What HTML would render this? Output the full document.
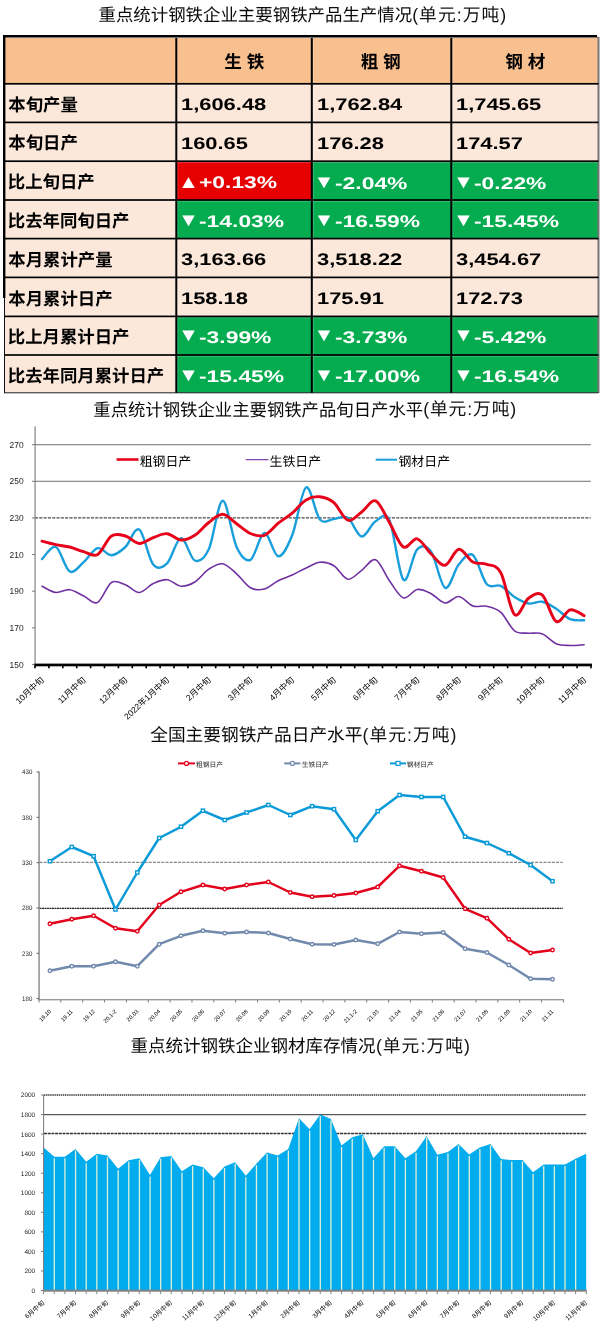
<!DOCTYPE html>
<html lang="zh"><head><meta charset="utf-8"><title>重点统计钢铁企业主要钢铁产品生产情况</title>
<style>
html,body{margin:0;padding:0;background:#fff}
body{width:600px;height:1342px;position:relative;overflow:hidden;font-family:"Liberation Sans","Noto Sans CJK SC",sans-serif;color:#000;text-rendering:geometricPrecision}
#page{position:absolute;left:0;top:0;width:600px;height:1342px;overflow:hidden;will-change:transform}
#gfx{position:absolute;left:0;top:0}
.num{position:absolute;white-space:nowrap;font-family:"Liberation Sans",sans-serif;font-weight:bold;font-size:16.8px;line-height:20px;height:20px;color:#000}
.num.w{color:#fff}
.num .sx{display:inline-block;transform:scaleX(1.305);transform-origin:0 50%}
.num .sx.p{transform:scaleX(1.362);margin-left:-0.6px}
.num .tri{display:inline-block;font-size:21.2px;line-height:20px;height:20px;width:22px;margin-left:-3.6px;transform:scaleY(.86);transform-origin:0 17.3px;vertical-align:baseline}
.num .tri.dn{vertical-align:1.2px}
.num .tri.up{vertical-align:.6px}
svg text{font-family:"Liberation Sans","Noto Sans CJK SC",sans-serif;text-rendering:geometricPrecision}
</style></head>
<body><div id="page">
<svg id="gfx" width="600" height="1342" viewBox="0 0 600 1342">
<text x="98.49" y="21.11" font-size="17.43" fill="#0a0a0a">重点统计钢铁企业主要钢铁产品生产情况</text>
<text x="412.2" y="20.72" font-size="17.8" fill="#111" textLength="94" lengthAdjust="spacing">(单元:万吨)</text>
<text x="93.30" y="415.71" font-size="17.38" fill="#0a0a0a">重点统计钢铁企业主要钢铁产品旬日产水平</text>
<text x="423.2" y="415.32" font-size="17.8" fill="#111" textLength="93" lengthAdjust="spacing">(单元:万吨)</text>
<text x="150.24" y="741.41" font-size="17.69" fill="#0a0a0a">全国主要钢铁产品日产水平</text>
<text x="362.5" y="741.02" font-size="17.8" fill="#111" textLength="94" lengthAdjust="spacing">(单元:万吨)</text>
<text x="130.49" y="1052.31" font-size="17.5" fill="#0a0a0a">重点统计钢铁企业钢材库存情况</text>
<text x="375.9" y="1051.92" font-size="17.8" fill="#111" textLength="94" lengthAdjust="spacing">(单元:万吨)</text>
<g id="tbl"><rect x="4.0" y="36.0" width="594.0" height="47.8" fill="#F9C08F"/><rect x="4.0" y="83.8" width="594.0" height="309.0" fill="#FCE8DA"/><rect x="176.3" y="161.2" width="135.5" height="38.80000000000001" fill="#E60000"/><rect x="311.8" y="161.2" width="139.5" height="38.80000000000001" fill="#04AB4F"/><rect x="451.3" y="161.2" width="147.7" height="38.80000000000001" fill="#04AB4F"/><rect x="176.3" y="200.0" width="135.5" height="38.599999999999994" fill="#04AB4F"/><rect x="311.8" y="200.0" width="139.5" height="38.599999999999994" fill="#04AB4F"/><rect x="451.3" y="200.0" width="147.7" height="38.599999999999994" fill="#04AB4F"/><rect x="176.3" y="316.4" width="135.5" height="38.60000000000002" fill="#04AB4F"/><rect x="311.8" y="316.4" width="139.5" height="38.60000000000002" fill="#04AB4F"/><rect x="451.3" y="316.4" width="147.7" height="38.60000000000002" fill="#04AB4F"/><rect x="176.3" y="355.0" width="135.5" height="37.80000000000001" fill="#04AB4F"/><rect x="311.8" y="355.0" width="139.5" height="37.80000000000001" fill="#04AB4F"/><rect x="451.3" y="355.0" width="147.7" height="37.80000000000001" fill="#04AB4F"/><rect x="177.3" y="36.0" width="1" height="356.8" fill="#fff" opacity=".22"/><rect x="312.8" y="36.0" width="1" height="356.8" fill="#fff" opacity=".22"/><rect x="452.3" y="36.0" width="1" height="356.8" fill="#fff" opacity=".22"/><rect x="4.0" y="84.64999999999999" width="594.0" height="1" fill="#fff" opacity=".22"/><rect x="4.0" y="123.25" width="594.0" height="1" fill="#fff" opacity=".22"/><rect x="4.0" y="162.04999999999998" width="594.0" height="1" fill="#fff" opacity=".22"/><rect x="4.0" y="200.85" width="594.0" height="1" fill="#fff" opacity=".22"/><rect x="4.0" y="239.45" width="594.0" height="1" fill="#fff" opacity=".22"/><rect x="4.0" y="278.25" width="594.0" height="1" fill="#fff" opacity=".22"/><rect x="4.0" y="317.25" width="594.0" height="1" fill="#fff" opacity=".22"/><rect x="4.0" y="355.85" width="594.0" height="1" fill="#fff" opacity=".22"/><rect x="597.5" y="37" width="2" height="356" fill="#777"/><rect x="4.0" y="82.95" width="594.5" height="1.7" fill="#000"/><rect x="4.0" y="121.55000000000001" width="594.5" height="1.7" fill="#000"/><rect x="4.0" y="160.35" width="594.5" height="1.7" fill="#000"/><rect x="4.0" y="199.15" width="594.5" height="1.7" fill="#000"/><rect x="4.0" y="237.75" width="594.5" height="1.7" fill="#000"/><rect x="4.0" y="276.54999999999995" width="594.5" height="1.7" fill="#000"/><rect x="4.0" y="315.54999999999995" width="594.5" height="1.7" fill="#000"/><rect x="4.0" y="354.15" width="594.5" height="1.7" fill="#000"/><rect x="4" y="392.3" width="594.5" height="1" fill="#222"/><rect x="175.3" y="36.0" width="2" height="356.8" fill="#000"/><rect x="310.8" y="36.0" width="2" height="356.8" fill="#000"/><rect x="450.3" y="36.0" width="2" height="356.8" fill="#000"/><rect x="3" y="35" width="594" height="2" fill="#000"/><rect x="5" y="37" width="593" height="1" fill="#777"/><rect x="3" y="35" width="2.4" height="263" fill="#000"/><rect x="4" y="298" width="1" height="95" fill="#111"/></g>
<text x="8.28" y="110.71" font-size="17.4" font-weight="bold" fill="#000">本旬产量</text>
<text x="8.28" y="149.41" font-size="17.4" font-weight="bold" fill="#000">本旬日产</text>
<text x="7.74" y="188.21" font-size="17.4" font-weight="bold" fill="#000">比上旬日产</text>
<text x="7.74" y="226.91" font-size="17.4" font-weight="bold" fill="#000">比去年同旬日产</text>
<text x="8.28" y="265.61" font-size="17.4" font-weight="bold" fill="#000">本月累计产量</text>
<text x="8.28" y="304.51" font-size="17.4" font-weight="bold" fill="#000">本月累计日产</text>
<text x="7.74" y="343.31" font-size="17.4" font-weight="bold" fill="#000">比上月累计日产</text>
<text x="7.74" y="381.51" font-size="17.4" font-weight="bold" fill="#000">比去年同月累计日产</text>
<text x="224.17" y="67.89" font-size="17.6" font-weight="bold" fill="#000" xml:space="preserve">生 铁</text>
<text x="360.65" y="67.89" font-size="17.6" font-weight="bold" fill="#000" xml:space="preserve">粗 钢</text>
<text x="505.20" y="67.89" font-size="17.6" font-weight="bold" fill="#000" xml:space="preserve">钢 材</text>
<g id="chart1"><rect x="35" y="444.15" width="555.8" height="1.1" fill="#7c7c7c"/><rect x="35" y="480.75" width="555.8" height="1.1" fill="#7c7c7c"/><line x1="35" y1="517.9" x2="590.8" y2="517.9" stroke="#4a4a4a" stroke-width="1.2" stroke-dasharray="3.1 1.2"/><rect x="34.5" y="426.3" width="1.1" height="238.6" fill="#7a7a7a"/><rect x="32" y="444.20" width="3" height="1" fill="#7a7a7a"/><text x="23.6" y="447.80" font-size="8.6" text-anchor="end" fill="#222" textLength="14" lengthAdjust="spacingAndGlyphs">270</text><rect x="32" y="480.82" width="3" height="1" fill="#7a7a7a"/><text x="23.6" y="484.42" font-size="8.6" text-anchor="end" fill="#222" textLength="14" lengthAdjust="spacingAndGlyphs">250</text><rect x="32" y="517.44" width="3" height="1" fill="#7a7a7a"/><text x="23.6" y="521.04" font-size="8.6" text-anchor="end" fill="#222" textLength="14" lengthAdjust="spacingAndGlyphs">230</text><rect x="32" y="554.06" width="3" height="1" fill="#7a7a7a"/><text x="23.6" y="557.66" font-size="8.6" text-anchor="end" fill="#222" textLength="14" lengthAdjust="spacingAndGlyphs">210</text><rect x="32" y="590.68" width="3" height="1" fill="#7a7a7a"/><text x="23.6" y="594.28" font-size="8.6" text-anchor="end" fill="#222" textLength="14" lengthAdjust="spacingAndGlyphs">190</text><rect x="32" y="627.30" width="3" height="1" fill="#7a7a7a"/><text x="23.6" y="630.90" font-size="8.6" text-anchor="end" fill="#222" textLength="14" lengthAdjust="spacingAndGlyphs">170</text><rect x="32" y="663.92" width="3" height="1" fill="#7a7a7a"/><text x="23.6" y="667.52" font-size="8.6" text-anchor="end" fill="#222" textLength="14" lengthAdjust="spacingAndGlyphs">150</text><path d="M42.0 586.2C44.3 587.2 51.2 591.9 55.9 592.5C60.5 593.1 65.1 589.1 69.8 589.7C74.4 590.3 79.0 593.9 83.7 596.0C88.3 598.1 92.9 604.8 97.6 602.5C102.2 600.2 106.8 585.5 111.5 582.5C116.1 579.5 120.7 583.1 125.4 584.8C130.0 586.5 134.6 592.7 139.2 592.5C143.9 592.3 148.5 585.7 153.2 583.6C157.8 581.5 162.4 579.3 167.1 579.7C171.7 580.1 176.3 585.8 181.0 586.2C185.6 586.6 190.2 584.8 194.8 582.0C199.5 579.2 204.1 572.2 208.8 569.2C213.4 566.2 218.0 563.0 222.7 563.8C227.3 564.6 231.9 569.8 236.6 573.8C241.2 577.8 245.8 585.3 250.5 587.8C255.1 590.3 259.7 590.2 264.4 589.0C269.0 587.8 273.6 583.1 278.2 580.8C282.9 578.5 287.5 577.1 292.2 575.0C296.8 572.9 301.4 570.1 306.1 568.0C310.7 565.9 315.3 562.6 319.9 562.2C324.6 561.8 329.2 562.9 333.9 565.7C338.5 568.5 343.1 578.4 347.8 579.2C352.4 580.0 357.0 573.5 361.7 570.3C366.3 567.1 370.9 558.0 375.6 559.8C380.2 561.5 384.8 574.4 389.4 580.8C394.1 587.1 398.7 596.4 403.4 597.9C408.0 599.4 412.6 590.2 417.2 589.5C421.9 588.8 426.5 591.5 431.2 593.7C435.8 596.0 440.4 602.5 445.1 603.0C449.7 603.5 454.3 596.0 458.9 596.5C463.6 597.0 468.2 604.3 472.9 605.9C477.5 607.5 482.1 605.2 486.8 606.3C491.4 607.3 496.0 608.1 500.7 612.2C505.3 616.3 509.9 627.3 514.5 630.8C519.2 634.3 523.8 632.7 528.5 633.2C533.1 633.7 537.7 632.1 542.4 633.9C547.0 635.6 551.6 641.8 556.2 643.7C560.9 645.6 565.5 645.3 570.1 645.5C574.8 645.7 581.7 644.9 584.1 644.8" fill="none" stroke="#7030A0" stroke-width="1.6" stroke-linejoin="round" stroke-linecap="round"/><path d="M42.0 559.1C44.3 557.1 51.2 544.9 55.9 547.0C60.5 549.1 65.1 569.0 69.8 571.5C74.4 574.0 79.0 566.1 83.7 562.2C88.3 558.3 92.9 549.4 97.6 548.2C102.2 547.0 106.8 555.4 111.5 555.2C116.1 555.0 120.7 551.3 125.4 547.0C130.0 542.7 134.6 526.6 139.2 529.5C143.9 532.4 148.5 558.9 153.2 564.5C157.8 570.1 162.4 567.7 167.1 563.3C171.7 558.9 176.3 538.6 181.0 538.1C185.6 537.6 190.2 558.6 194.8 560.5C199.5 562.4 204.1 559.2 208.8 549.3C213.4 539.3 218.0 501.2 222.7 500.8C227.3 500.4 231.9 537.2 236.6 547.0C241.2 556.8 245.8 562.1 250.5 559.8C255.1 557.5 259.7 533.6 264.4 533.0C269.0 532.4 273.6 555.9 278.2 556.3C282.9 556.7 287.5 546.8 292.2 535.3C296.8 523.8 301.4 490.1 306.1 487.5C310.7 484.9 315.3 514.2 319.9 519.5C324.6 524.8 329.2 519.3 333.9 519.0C338.5 518.7 343.1 514.9 347.8 517.8C352.4 520.7 357.0 535.9 361.7 536.5C366.3 537.1 370.9 524.0 375.6 521.3C380.2 518.6 384.8 510.5 389.4 520.2C394.1 529.9 398.7 574.9 403.4 579.7C408.0 584.6 412.6 554.0 417.2 549.3C421.9 544.6 426.5 545.3 431.2 551.7C435.8 558.1 440.4 585.7 445.1 587.8C449.7 589.9 454.3 569.8 458.9 564.3C463.6 558.8 468.2 551.7 472.9 555.0C477.5 558.3 482.1 579.1 486.8 584.2C491.4 589.3 496.0 583.7 500.7 585.8C505.3 587.9 509.9 594.0 514.5 597.0C519.2 600.0 523.8 602.7 528.5 603.5C533.1 604.3 537.7 600.8 542.4 601.7C547.0 602.6 551.6 605.8 556.2 608.7C560.9 611.6 565.5 617.3 570.1 619.2C574.8 621.1 581.7 620.1 584.1 620.3" fill="none" stroke="#189FDB" stroke-width="2.4" stroke-linejoin="round" stroke-linecap="round"/><path d="M42.0 541.2C44.3 541.8 51.2 543.7 55.9 544.7C60.5 545.7 65.1 545.8 69.8 547.0C74.4 548.2 79.0 550.5 83.7 551.7C88.3 553.0 92.9 557.1 97.6 554.5C102.2 551.9 106.8 539.1 111.5 536.0C116.1 532.9 120.7 534.8 125.4 536.0C130.0 537.2 134.6 543.2 139.2 543.5C143.9 543.8 148.5 539.3 153.2 537.7C157.8 536.1 162.4 533.3 167.1 533.7C171.7 534.1 176.3 539.7 181.0 540.0C185.6 540.3 190.2 538.2 194.8 535.3C199.5 532.4 204.1 526.0 208.8 522.5C213.4 519.0 218.0 514.1 222.7 514.3C227.3 514.5 231.9 520.5 236.6 523.7C241.2 526.9 245.8 531.6 250.5 533.5C255.1 535.4 259.7 537.0 264.4 535.3C269.0 533.6 273.6 526.9 278.2 523.2C282.9 519.5 287.5 517.1 292.2 513.2C296.8 509.3 301.4 502.6 306.1 499.9C310.7 497.2 315.3 496.3 319.9 496.8C324.6 497.3 329.2 498.8 333.9 502.7C338.5 506.6 343.1 518.7 347.8 520.2C352.4 521.8 357.0 515.2 361.7 512.0C366.3 508.8 370.9 499.1 375.6 500.8C380.2 502.6 384.8 514.8 389.4 522.5C394.1 530.2 398.7 544.3 403.4 547.0C408.0 549.7 412.6 537.6 417.2 538.8C421.9 540.0 426.5 549.6 431.2 554.0C435.8 558.4 440.4 566.0 445.1 565.2C449.7 564.4 454.3 549.7 458.9 549.2C463.6 548.7 468.2 559.5 472.9 562.0C477.5 564.5 482.1 562.5 486.8 564.3C491.4 566.0 496.0 564.1 500.7 572.5C505.3 580.9 509.9 610.2 514.5 614.5C519.2 618.8 523.8 601.4 528.5 598.2C533.1 595.0 537.7 591.2 542.4 595.1C547.0 599.0 551.6 619.0 556.2 621.5C560.9 624.0 565.5 610.8 570.1 609.8C574.8 608.8 581.7 614.7 584.1 615.7" fill="none" stroke="#E60019" stroke-width="2.9" stroke-linejoin="round" stroke-linecap="round"/><rect x="34.5" y="663.6" width="557.5" height="2.7" fill="#000"/><rect x="34.20" y="665" width="1.6" height="3.3" fill="#000"/><rect x="48.10" y="665" width="1.6" height="3.3" fill="#000"/><rect x="62.00" y="665" width="1.6" height="3.3" fill="#000"/><rect x="75.90" y="665" width="1.6" height="3.3" fill="#000"/><rect x="89.80" y="665" width="1.6" height="3.3" fill="#000"/><rect x="103.70" y="665" width="1.6" height="3.3" fill="#000"/><rect x="117.60" y="665" width="1.6" height="3.3" fill="#000"/><rect x="131.50" y="665" width="1.6" height="3.3" fill="#000"/><rect x="145.40" y="665" width="1.6" height="3.3" fill="#000"/><rect x="159.30" y="665" width="1.6" height="3.3" fill="#000"/><rect x="173.20" y="665" width="1.6" height="3.3" fill="#000"/><rect x="187.10" y="665" width="1.6" height="3.3" fill="#000"/><rect x="201.00" y="665" width="1.6" height="3.3" fill="#000"/><rect x="214.90" y="665" width="1.6" height="3.3" fill="#000"/><rect x="228.80" y="665" width="1.6" height="3.3" fill="#000"/><rect x="242.70" y="665" width="1.6" height="3.3" fill="#000"/><rect x="256.60" y="665" width="1.6" height="3.3" fill="#000"/><rect x="270.50" y="665" width="1.6" height="3.3" fill="#000"/><rect x="284.40" y="665" width="1.6" height="3.3" fill="#000"/><rect x="298.30" y="665" width="1.6" height="3.3" fill="#000"/><rect x="312.20" y="665" width="1.6" height="3.3" fill="#000"/><rect x="326.10" y="665" width="1.6" height="3.3" fill="#000"/><rect x="340.00" y="665" width="1.6" height="3.3" fill="#000"/><rect x="353.90" y="665" width="1.6" height="3.3" fill="#000"/><rect x="367.80" y="665" width="1.6" height="3.3" fill="#000"/><rect x="381.70" y="665" width="1.6" height="3.3" fill="#000"/><rect x="395.60" y="665" width="1.6" height="3.3" fill="#000"/><rect x="409.50" y="665" width="1.6" height="3.3" fill="#000"/><rect x="423.40" y="665" width="1.6" height="3.3" fill="#000"/><rect x="437.30" y="665" width="1.6" height="3.3" fill="#000"/><rect x="451.20" y="665" width="1.6" height="3.3" fill="#000"/><rect x="465.10" y="665" width="1.6" height="3.3" fill="#000"/><rect x="479.00" y="665" width="1.6" height="3.3" fill="#000"/><rect x="492.90" y="665" width="1.6" height="3.3" fill="#000"/><rect x="506.80" y="665" width="1.6" height="3.3" fill="#000"/><rect x="520.70" y="665" width="1.6" height="3.3" fill="#000"/><rect x="534.60" y="665" width="1.6" height="3.3" fill="#000"/><rect x="548.50" y="665" width="1.6" height="3.3" fill="#000"/><rect x="562.40" y="665" width="1.6" height="3.3" fill="#000"/><rect x="576.30" y="665" width="1.6" height="3.3" fill="#000"/><rect x="590.20" y="665" width="1.6" height="3.3" fill="#000"/><line x1="116.6" y1="459.5" x2="138.5" y2="459.5" stroke="#E60019" stroke-width="2.6"/><line x1="245.8" y1="459.7" x2="268.4" y2="459.7" stroke="#7030A0" stroke-width="1.1"/><line x1="375.7" y1="459.7" x2="397" y2="459.7" stroke="#189FDB" stroke-width="2"/></g>
<text x="139.67" y="465.90" font-size="12.9" fill="#000">粗钢日产</text>
<text x="269.50" y="465.90" font-size="12.9" fill="#000">生铁日产</text>
<text x="398.49" y="465.90" font-size="12.9" fill="#000">钢材日产</text>
<g transform="translate(44.55 680.60) rotate(-43)"><text x="0" y="0" font-size="8.5" fill="#000" text-anchor="end">10月中旬</text></g>
<g transform="translate(86.25 680.60) rotate(-43)"><text x="0" y="0" font-size="8.5" fill="#000" text-anchor="end">11月中旬</text></g>
<g transform="translate(127.95 680.60) rotate(-43)"><text x="0" y="0" font-size="8.5" fill="#000" text-anchor="end">12月中旬</text></g>
<g transform="translate(169.65 680.60) rotate(-43)"><text x="0" y="0" font-size="8.5" fill="#000" text-anchor="end">2022年1月中旬</text></g>
<g transform="translate(211.35 680.60) rotate(-43)"><text x="0" y="0" font-size="8.5" fill="#000" text-anchor="end">2月中旬</text></g>
<g transform="translate(253.05 680.60) rotate(-43)"><text x="0" y="0" font-size="8.5" fill="#000" text-anchor="end">3月中旬</text></g>
<g transform="translate(294.75 680.60) rotate(-43)"><text x="0" y="0" font-size="8.5" fill="#000" text-anchor="end">4月中旬</text></g>
<g transform="translate(336.45 680.60) rotate(-43)"><text x="0" y="0" font-size="8.5" fill="#000" text-anchor="end">5月中旬</text></g>
<g transform="translate(378.15 680.60) rotate(-43)"><text x="0" y="0" font-size="8.5" fill="#000" text-anchor="end">6月中旬</text></g>
<g transform="translate(419.85 680.60) rotate(-43)"><text x="0" y="0" font-size="8.5" fill="#000" text-anchor="end">7月中旬</text></g>
<g transform="translate(461.55 680.60) rotate(-43)"><text x="0" y="0" font-size="8.5" fill="#000" text-anchor="end">8月中旬</text></g>
<g transform="translate(503.25 680.60) rotate(-43)"><text x="0" y="0" font-size="8.5" fill="#000" text-anchor="end">9月中旬</text></g>
<g transform="translate(544.95 680.60) rotate(-43)"><text x="0" y="0" font-size="8.5" fill="#000" text-anchor="end">10月中旬</text></g>
<g transform="translate(586.65 680.60) rotate(-43)"><text x="0" y="0" font-size="8.5" fill="#000" text-anchor="end">11月中旬</text></g>
<g id="chart2"><line x1="39.5" y1="862.3" x2="562.8" y2="862.3" stroke="#444" stroke-width="0.8" stroke-dasharray="3 1.2"/><line x1="39.5" y1="908.3" x2="562.8" y2="908.3" stroke="#222" stroke-width="1.2" stroke-dasharray="2 .5"/><rect x="38.5" y="771.4" width="1.1" height="228.8" fill="#666"/><rect x="36.5" y="771.50" width="2.5" height="1" fill="#666"/><text x="32.3" y="774.40" font-size="6.6" text-anchor="end" fill="#222" textLength="10.2" lengthAdjust="spacingAndGlyphs">430</text><rect x="36.5" y="816.82" width="2.5" height="1" fill="#666"/><text x="32.3" y="819.72" font-size="6.6" text-anchor="end" fill="#222" textLength="10.2" lengthAdjust="spacingAndGlyphs">380</text><rect x="36.5" y="862.14" width="2.5" height="1" fill="#666"/><text x="32.3" y="865.04" font-size="6.6" text-anchor="end" fill="#222" textLength="10.2" lengthAdjust="spacingAndGlyphs">330</text><rect x="36.5" y="907.46" width="2.5" height="1" fill="#666"/><text x="32.3" y="910.36" font-size="6.6" text-anchor="end" fill="#222" textLength="10.2" lengthAdjust="spacingAndGlyphs">280</text><rect x="36.5" y="952.78" width="2.5" height="1" fill="#666"/><text x="32.3" y="955.68" font-size="6.6" text-anchor="end" fill="#222" textLength="10.2" lengthAdjust="spacingAndGlyphs">230</text><rect x="36.5" y="998.10" width="2.5" height="1" fill="#666"/><text x="32.3" y="1001.00" font-size="6.6" text-anchor="end" fill="#222" textLength="10.2" lengthAdjust="spacingAndGlyphs">180</text><rect x="38.5" y="999.2" width="525.4" height="1.1" fill="#808080"/><rect x="38.50" y="1000" width="1" height="2.6" fill="#808080"/><rect x="60.35" y="1000" width="1" height="2.6" fill="#808080"/><rect x="82.20" y="1000" width="1" height="2.6" fill="#808080"/><rect x="104.05" y="1000" width="1" height="2.6" fill="#808080"/><rect x="125.90" y="1000" width="1" height="2.6" fill="#808080"/><rect x="147.75" y="1000" width="1" height="2.6" fill="#808080"/><rect x="169.60" y="1000" width="1" height="2.6" fill="#808080"/><rect x="191.45" y="1000" width="1" height="2.6" fill="#808080"/><rect x="213.30" y="1000" width="1" height="2.6" fill="#808080"/><rect x="235.15" y="1000" width="1" height="2.6" fill="#808080"/><rect x="257.00" y="1000" width="1" height="2.6" fill="#808080"/><rect x="278.85" y="1000" width="1" height="2.6" fill="#808080"/><rect x="300.70" y="1000" width="1" height="2.6" fill="#808080"/><rect x="322.55" y="1000" width="1" height="2.6" fill="#808080"/><rect x="344.40" y="1000" width="1" height="2.6" fill="#808080"/><rect x="366.25" y="1000" width="1" height="2.6" fill="#808080"/><rect x="388.10" y="1000" width="1" height="2.6" fill="#808080"/><rect x="409.95" y="1000" width="1" height="2.6" fill="#808080"/><rect x="431.80" y="1000" width="1" height="2.6" fill="#808080"/><rect x="453.65" y="1000" width="1" height="2.6" fill="#808080"/><rect x="475.50" y="1000" width="1" height="2.6" fill="#808080"/><rect x="497.35" y="1000" width="1" height="2.6" fill="#808080"/><rect x="519.20" y="1000" width="1" height="2.6" fill="#808080"/><rect x="541.05" y="1000" width="1" height="2.6" fill="#808080"/><rect x="562.90" y="1000" width="1" height="2.6" fill="#808080"/><polyline points="49.9,970.8 71.8,966.2 93.6,966.2 115.5,961.8 137.3,966.2 159.2,944.2 181.0,935.8 202.9,930.8 224.7,933.2 246.6,932.0 268.4,933.0 290.3,939.0 312.1,944.2 334.0,944.5 355.8,940.0 377.7,943.8 399.5,932.0 421.4,933.8 443.2,932.5 465.1,948.8 486.9,952.5 508.8,965.0 530.6,978.8 552.5,979.2" fill="none" stroke="#7189AC" stroke-width="2.45" stroke-linejoin="round"/><circle cx="49.9" cy="970.8" r="1.75" fill="#fff" stroke="#7189AC" stroke-width="1.4"/><circle cx="71.8" cy="966.2" r="1.75" fill="#fff" stroke="#7189AC" stroke-width="1.4"/><circle cx="93.6" cy="966.2" r="1.75" fill="#fff" stroke="#7189AC" stroke-width="1.4"/><circle cx="115.5" cy="961.8" r="1.75" fill="#fff" stroke="#7189AC" stroke-width="1.4"/><circle cx="137.3" cy="966.2" r="1.75" fill="#fff" stroke="#7189AC" stroke-width="1.4"/><circle cx="159.2" cy="944.2" r="1.75" fill="#fff" stroke="#7189AC" stroke-width="1.4"/><circle cx="181.0" cy="935.8" r="1.75" fill="#fff" stroke="#7189AC" stroke-width="1.4"/><circle cx="202.9" cy="930.8" r="1.75" fill="#fff" stroke="#7189AC" stroke-width="1.4"/><circle cx="224.7" cy="933.2" r="1.75" fill="#fff" stroke="#7189AC" stroke-width="1.4"/><circle cx="246.6" cy="932.0" r="1.75" fill="#fff" stroke="#7189AC" stroke-width="1.4"/><circle cx="268.4" cy="933.0" r="1.75" fill="#fff" stroke="#7189AC" stroke-width="1.4"/><circle cx="290.3" cy="939.0" r="1.75" fill="#fff" stroke="#7189AC" stroke-width="1.4"/><circle cx="312.1" cy="944.2" r="1.75" fill="#fff" stroke="#7189AC" stroke-width="1.4"/><circle cx="334.0" cy="944.5" r="1.75" fill="#fff" stroke="#7189AC" stroke-width="1.4"/><circle cx="355.8" cy="940.0" r="1.75" fill="#fff" stroke="#7189AC" stroke-width="1.4"/><circle cx="377.7" cy="943.8" r="1.75" fill="#fff" stroke="#7189AC" stroke-width="1.4"/><circle cx="399.5" cy="932.0" r="1.75" fill="#fff" stroke="#7189AC" stroke-width="1.4"/><circle cx="421.4" cy="933.8" r="1.75" fill="#fff" stroke="#7189AC" stroke-width="1.4"/><circle cx="443.2" cy="932.5" r="1.75" fill="#fff" stroke="#7189AC" stroke-width="1.4"/><circle cx="465.1" cy="948.8" r="1.75" fill="#fff" stroke="#7189AC" stroke-width="1.4"/><circle cx="486.9" cy="952.5" r="1.75" fill="#fff" stroke="#7189AC" stroke-width="1.4"/><circle cx="508.8" cy="965.0" r="1.75" fill="#fff" stroke="#7189AC" stroke-width="1.4"/><circle cx="530.6" cy="978.8" r="1.75" fill="#fff" stroke="#7189AC" stroke-width="1.4"/><circle cx="552.5" cy="979.2" r="1.75" fill="#fff" stroke="#7189AC" stroke-width="1.4"/><polyline points="49.9,923.8 71.8,919.2 93.6,915.8 115.5,928.2 137.3,931.2 159.2,905.0 181.0,891.8 202.9,885.0 224.7,889.0 246.6,885.0 268.4,882.0 290.3,892.5 312.1,896.8 334.0,895.5 355.8,893.0 377.7,887.0 399.5,865.8 421.4,871.2 443.2,877.5 465.1,908.8 486.9,918.2 508.8,939.2 530.6,953.0 552.5,950.0" fill="none" stroke="#E3001B" stroke-width="2.45" stroke-linejoin="round"/><circle cx="49.9" cy="923.8" r="1.75" fill="#fff" stroke="#E3001B" stroke-width="1.4"/><circle cx="71.8" cy="919.2" r="1.75" fill="#fff" stroke="#E3001B" stroke-width="1.4"/><circle cx="93.6" cy="915.8" r="1.75" fill="#fff" stroke="#E3001B" stroke-width="1.4"/><circle cx="115.5" cy="928.2" r="1.75" fill="#fff" stroke="#E3001B" stroke-width="1.4"/><circle cx="137.3" cy="931.2" r="1.75" fill="#fff" stroke="#E3001B" stroke-width="1.4"/><circle cx="159.2" cy="905.0" r="1.75" fill="#fff" stroke="#E3001B" stroke-width="1.4"/><circle cx="181.0" cy="891.8" r="1.75" fill="#fff" stroke="#E3001B" stroke-width="1.4"/><circle cx="202.9" cy="885.0" r="1.75" fill="#fff" stroke="#E3001B" stroke-width="1.4"/><circle cx="224.7" cy="889.0" r="1.75" fill="#fff" stroke="#E3001B" stroke-width="1.4"/><circle cx="246.6" cy="885.0" r="1.75" fill="#fff" stroke="#E3001B" stroke-width="1.4"/><circle cx="268.4" cy="882.0" r="1.75" fill="#fff" stroke="#E3001B" stroke-width="1.4"/><circle cx="290.3" cy="892.5" r="1.75" fill="#fff" stroke="#E3001B" stroke-width="1.4"/><circle cx="312.1" cy="896.8" r="1.75" fill="#fff" stroke="#E3001B" stroke-width="1.4"/><circle cx="334.0" cy="895.5" r="1.75" fill="#fff" stroke="#E3001B" stroke-width="1.4"/><circle cx="355.8" cy="893.0" r="1.75" fill="#fff" stroke="#E3001B" stroke-width="1.4"/><circle cx="377.7" cy="887.0" r="1.75" fill="#fff" stroke="#E3001B" stroke-width="1.4"/><circle cx="399.5" cy="865.8" r="1.75" fill="#fff" stroke="#E3001B" stroke-width="1.4"/><circle cx="421.4" cy="871.2" r="1.75" fill="#fff" stroke="#E3001B" stroke-width="1.4"/><circle cx="443.2" cy="877.5" r="1.75" fill="#fff" stroke="#E3001B" stroke-width="1.4"/><circle cx="465.1" cy="908.8" r="1.75" fill="#fff" stroke="#E3001B" stroke-width="1.4"/><circle cx="486.9" cy="918.2" r="1.75" fill="#fff" stroke="#E3001B" stroke-width="1.4"/><circle cx="508.8" cy="939.2" r="1.75" fill="#fff" stroke="#E3001B" stroke-width="1.4"/><circle cx="530.6" cy="953.0" r="1.75" fill="#fff" stroke="#E3001B" stroke-width="1.4"/><circle cx="552.5" cy="950.0" r="1.75" fill="#fff" stroke="#E3001B" stroke-width="1.4"/><polyline points="49.9,861.2 71.8,847.0 93.6,856.2 115.5,909.5 137.3,872.5 159.2,838.0 181.0,826.8 202.9,810.8 224.7,820.0 246.6,812.5 268.4,805.0 290.3,815.0 312.1,806.2 334.0,809.2 355.8,840.0 377.7,811.2 399.5,795.0 421.4,797.0 443.2,797.0 465.1,836.8 486.9,843.0 508.8,853.2 530.6,865.0 552.5,881.2" fill="none" stroke="#0A9AD7" stroke-width="2.45" stroke-linejoin="round"/><rect x="48.3" y="859.6" width="3.2" height="3.2" fill="#fff" stroke="#0A9AD7" stroke-width="1.4"/><rect x="70.2" y="845.4" width="3.2" height="3.2" fill="#fff" stroke="#0A9AD7" stroke-width="1.4"/><rect x="92.0" y="854.6" width="3.2" height="3.2" fill="#fff" stroke="#0A9AD7" stroke-width="1.4"/><rect x="113.9" y="907.9" width="3.2" height="3.2" fill="#fff" stroke="#0A9AD7" stroke-width="1.4"/><rect x="135.7" y="870.9" width="3.2" height="3.2" fill="#fff" stroke="#0A9AD7" stroke-width="1.4"/><rect x="157.6" y="836.4" width="3.2" height="3.2" fill="#fff" stroke="#0A9AD7" stroke-width="1.4"/><rect x="179.4" y="825.1" width="3.2" height="3.2" fill="#fff" stroke="#0A9AD7" stroke-width="1.4"/><rect x="201.3" y="809.1" width="3.2" height="3.2" fill="#fff" stroke="#0A9AD7" stroke-width="1.4"/><rect x="223.1" y="818.4" width="3.2" height="3.2" fill="#fff" stroke="#0A9AD7" stroke-width="1.4"/><rect x="245.0" y="810.9" width="3.2" height="3.2" fill="#fff" stroke="#0A9AD7" stroke-width="1.4"/><rect x="266.8" y="803.4" width="3.2" height="3.2" fill="#fff" stroke="#0A9AD7" stroke-width="1.4"/><rect x="288.7" y="813.4" width="3.2" height="3.2" fill="#fff" stroke="#0A9AD7" stroke-width="1.4"/><rect x="310.5" y="804.6" width="3.2" height="3.2" fill="#fff" stroke="#0A9AD7" stroke-width="1.4"/><rect x="332.4" y="807.6" width="3.2" height="3.2" fill="#fff" stroke="#0A9AD7" stroke-width="1.4"/><rect x="354.2" y="838.4" width="3.2" height="3.2" fill="#fff" stroke="#0A9AD7" stroke-width="1.4"/><rect x="376.1" y="809.6" width="3.2" height="3.2" fill="#fff" stroke="#0A9AD7" stroke-width="1.4"/><rect x="397.9" y="793.4" width="3.2" height="3.2" fill="#fff" stroke="#0A9AD7" stroke-width="1.4"/><rect x="419.8" y="795.4" width="3.2" height="3.2" fill="#fff" stroke="#0A9AD7" stroke-width="1.4"/><rect x="441.6" y="795.4" width="3.2" height="3.2" fill="#fff" stroke="#0A9AD7" stroke-width="1.4"/><rect x="463.5" y="835.1" width="3.2" height="3.2" fill="#fff" stroke="#0A9AD7" stroke-width="1.4"/><rect x="485.3" y="841.4" width="3.2" height="3.2" fill="#fff" stroke="#0A9AD7" stroke-width="1.4"/><rect x="507.2" y="851.6" width="3.2" height="3.2" fill="#fff" stroke="#0A9AD7" stroke-width="1.4"/><rect x="529.0" y="863.4" width="3.2" height="3.2" fill="#fff" stroke="#0A9AD7" stroke-width="1.4"/><rect x="550.9" y="879.6" width="3.2" height="3.2" fill="#fff" stroke="#0A9AD7" stroke-width="1.4"/><line x1="178" y1="763.4" x2="195" y2="763.4" stroke="#E3001B" stroke-width="2"/><circle cx="186.5" cy="763.4" r="2" fill="#fff" stroke="#E3001B" stroke-width="1.2"/><line x1="284.3" y1="763.4" x2="300.4" y2="763.4" stroke="#7189AC" stroke-width="2"/><circle cx="292.35" cy="763.4" r="2" fill="#fff" stroke="#7189AC" stroke-width="1.2"/><line x1="390" y1="763.4" x2="406.1" y2="763.4" stroke="#0A9AD7" stroke-width="2"/><rect x="396.05" y="761.4" width="4" height="4" fill="#fff" stroke="#0A9AD7" stroke-width="1.2"/></g>
<text x="196.05" y="766.87" font-size="6.75" fill="#222">粗钢日产</text>
<text x="301.71" y="766.87" font-size="6.75" fill="#222">生铁日产</text>
<text x="406.81" y="766.87" font-size="6.75" fill="#222">钢材日产</text>
<g transform="translate(51.52 1011.80) rotate(-45)"><text x="-14.26" y="0" font-size="5.7" fill="#000">19.10</text></g>
<g transform="translate(73.38 1011.80) rotate(-45)"><text x="-14.26" y="0" font-size="5.7" fill="#000">19.11</text></g>
<g transform="translate(95.22 1011.80) rotate(-45)"><text x="-14.26" y="0" font-size="5.7" fill="#000">19.12</text></g>
<g transform="translate(117.08 1011.80) rotate(-45)"><text x="-16.16" y="0" font-size="5.7" fill="#000">20.1-2</text></g>
<g transform="translate(138.92 1011.80) rotate(-45)"><text x="-14.26" y="0" font-size="5.7" fill="#000">20.03</text></g>
<g transform="translate(160.78 1011.80) rotate(-45)"><text x="-14.26" y="0" font-size="5.7" fill="#000">20.04</text></g>
<g transform="translate(182.62 1011.80) rotate(-45)"><text x="-14.26" y="0" font-size="5.7" fill="#000">20.05</text></g>
<g transform="translate(204.47 1011.80) rotate(-45)"><text x="-14.26" y="0" font-size="5.7" fill="#000">20.06</text></g>
<g transform="translate(226.33 1011.80) rotate(-45)"><text x="-14.26" y="0" font-size="5.7" fill="#000">20.07</text></g>
<g transform="translate(248.18 1011.80) rotate(-45)"><text x="-14.26" y="0" font-size="5.7" fill="#000">20.08</text></g>
<g transform="translate(270.03 1011.80) rotate(-45)"><text x="-14.26" y="0" font-size="5.7" fill="#000">20.09</text></g>
<g transform="translate(291.88 1011.80) rotate(-45)"><text x="-14.26" y="0" font-size="5.7" fill="#000">20.10</text></g>
<g transform="translate(313.73 1011.80) rotate(-45)"><text x="-14.26" y="0" font-size="5.7" fill="#000">20.11</text></g>
<g transform="translate(335.58 1011.80) rotate(-45)"><text x="-14.26" y="0" font-size="5.7" fill="#000">20.12</text></g>
<g transform="translate(357.43 1011.80) rotate(-45)"><text x="-16.16" y="0" font-size="5.7" fill="#000">21.1-2</text></g>
<g transform="translate(379.28 1011.80) rotate(-45)"><text x="-14.26" y="0" font-size="5.7" fill="#000">21.03</text></g>
<g transform="translate(401.13 1011.80) rotate(-45)"><text x="-14.26" y="0" font-size="5.7" fill="#000">21.04</text></g>
<g transform="translate(422.98 1011.80) rotate(-45)"><text x="-14.26" y="0" font-size="5.7" fill="#000">21.05</text></g>
<g transform="translate(444.83 1011.80) rotate(-45)"><text x="-14.26" y="0" font-size="5.7" fill="#000">21.06</text></g>
<g transform="translate(466.68 1011.80) rotate(-45)"><text x="-14.26" y="0" font-size="5.7" fill="#000">21.07</text></g>
<g transform="translate(488.53 1011.80) rotate(-45)"><text x="-14.26" y="0" font-size="5.7" fill="#000">21.08</text></g>
<g transform="translate(510.38 1011.80) rotate(-45)"><text x="-14.26" y="0" font-size="5.7" fill="#000">21.09</text></g>
<g transform="translate(532.23 1011.80) rotate(-45)"><text x="-14.26" y="0" font-size="5.7" fill="#000">21.10</text></g>
<g transform="translate(554.08 1011.80) rotate(-45)"><text x="-14.26" y="0" font-size="5.7" fill="#000">21.11</text></g>
<g id="chart3"><line x1="44" y1="1095" x2="586.2" y2="1095" stroke="#333" stroke-width="1.3" stroke-dasharray="1.4 .7"/><rect x="44" y="1114.1" width="542.2" height="1.1" fill="#444"/><line x1="44" y1="1133.5" x2="586.2" y2="1133.5" stroke="#333" stroke-width="1.4" stroke-dasharray="3 .7"/><polygon points="43.6,1290.5 43.6,1147.4 54.2,1156.7 64.9,1156.7 75.5,1149.0 86.2,1161.8 96.8,1153.7 107.4,1155.5 118.1,1168.8 128.7,1160.2 139.4,1158.3 150.0,1175.1 160.6,1157.2 171.3,1156.0 181.9,1171.2 192.6,1164.6 203.2,1167.2 213.8,1178.2 224.5,1166.5 235.1,1162.3 245.8,1175.8 256.4,1163.7 267.0,1152.5 277.7,1155.5 288.3,1149.0 299.0,1118.2 309.6,1129.2 320.2,1114.5 330.9,1119.1 341.5,1145.5 352.2,1137.3 362.8,1134.3 373.4,1158.3 384.1,1146.2 394.7,1146.2 405.4,1158.3 416.0,1151.3 426.6,1136.2 437.3,1154.8 447.9,1151.9 458.6,1143.9 469.2,1154.4 479.8,1147.6 490.5,1143.9 501.1,1158.9 511.8,1160.1 522.4,1160.1 533.0,1172.3 543.7,1164.6 554.3,1164.6 565.0,1164.6 575.6,1158.7 586.2,1153.8 586.2,1290.5" fill="#00ABEE"/><rect x="53.64" y="1158.2" width="1.3" height="132.3" fill="#DFF0D9"/><rect x="64.28" y="1158.2" width="1.3" height="132.3" fill="#DFF0D9"/><rect x="74.92" y="1150.5" width="1.3" height="140.0" fill="#DFF0D9"/><rect x="85.56" y="1163.3" width="1.3" height="127.2" fill="#DFF0D9"/><rect x="96.20" y="1155.2" width="1.3" height="135.3" fill="#DFF0D9"/><rect x="106.84" y="1157.0" width="1.3" height="133.5" fill="#DFF0D9"/><rect x="117.48" y="1170.3" width="1.3" height="120.2" fill="#DFF0D9"/><rect x="128.12" y="1161.7" width="1.3" height="128.8" fill="#DFF0D9"/><rect x="138.76" y="1159.8" width="1.3" height="130.7" fill="#DFF0D9"/><rect x="149.40" y="1176.6" width="1.3" height="113.9" fill="#DFF0D9"/><rect x="160.04" y="1158.7" width="1.3" height="131.8" fill="#DFF0D9"/><rect x="170.68" y="1157.5" width="1.3" height="133.0" fill="#DFF0D9"/><rect x="181.32" y="1172.7" width="1.3" height="117.8" fill="#DFF0D9"/><rect x="191.96" y="1166.1" width="1.3" height="124.4" fill="#DFF0D9"/><rect x="202.60" y="1168.7" width="1.3" height="121.8" fill="#DFF0D9"/><rect x="213.24" y="1179.7" width="1.3" height="110.8" fill="#DFF0D9"/><rect x="223.88" y="1168.0" width="1.3" height="122.5" fill="#DFF0D9"/><rect x="234.52" y="1163.8" width="1.3" height="126.7" fill="#DFF0D9"/><rect x="245.16" y="1177.3" width="1.3" height="113.2" fill="#DFF0D9"/><rect x="255.80" y="1165.2" width="1.3" height="125.3" fill="#DFF0D9"/><rect x="266.44" y="1154.0" width="1.3" height="136.5" fill="#DFF0D9"/><rect x="277.08" y="1157.0" width="1.3" height="133.5" fill="#DFF0D9"/><rect x="287.72" y="1150.5" width="1.3" height="140.0" fill="#DFF0D9"/><rect x="298.36" y="1119.7" width="1.3" height="170.8" fill="#DFF0D9"/><rect x="309.00" y="1130.7" width="1.3" height="159.8" fill="#DFF0D9"/><rect x="319.64" y="1116.0" width="1.3" height="174.5" fill="#DFF0D9"/><rect x="330.28" y="1120.6" width="1.3" height="169.9" fill="#DFF0D9"/><rect x="340.92" y="1147.0" width="1.3" height="143.5" fill="#DFF0D9"/><rect x="351.56" y="1138.8" width="1.3" height="151.7" fill="#DFF0D9"/><rect x="362.20" y="1135.8" width="1.3" height="154.7" fill="#DFF0D9"/><rect x="372.84" y="1159.8" width="1.3" height="130.7" fill="#DFF0D9"/><rect x="383.48" y="1147.7" width="1.3" height="142.8" fill="#DFF0D9"/><rect x="394.12" y="1147.7" width="1.3" height="142.8" fill="#DFF0D9"/><rect x="404.76" y="1159.8" width="1.3" height="130.7" fill="#DFF0D9"/><rect x="415.40" y="1152.8" width="1.3" height="137.7" fill="#DFF0D9"/><rect x="426.04" y="1137.7" width="1.3" height="152.8" fill="#DFF0D9"/><rect x="436.68" y="1156.3" width="1.3" height="134.2" fill="#DFF0D9"/><rect x="447.32" y="1153.4" width="1.3" height="137.1" fill="#DFF0D9"/><rect x="457.96" y="1145.4" width="1.3" height="145.1" fill="#DFF0D9"/><rect x="468.60" y="1155.9" width="1.3" height="134.6" fill="#DFF0D9"/><rect x="479.24" y="1149.1" width="1.3" height="141.4" fill="#DFF0D9"/><rect x="489.88" y="1145.4" width="1.3" height="145.1" fill="#DFF0D9"/><rect x="500.52" y="1160.4" width="1.3" height="130.1" fill="#DFF0D9"/><rect x="511.16" y="1161.6" width="1.3" height="128.9" fill="#DFF0D9"/><rect x="521.80" y="1161.6" width="1.3" height="128.9" fill="#DFF0D9"/><rect x="532.44" y="1173.8" width="1.3" height="116.7" fill="#DFF0D9"/><rect x="543.08" y="1166.1" width="1.3" height="124.4" fill="#DFF0D9"/><rect x="553.72" y="1166.1" width="1.3" height="124.4" fill="#DFF0D9"/><rect x="564.36" y="1166.1" width="1.3" height="124.4" fill="#DFF0D9"/><rect x="575.00" y="1160.2" width="1.3" height="130.3" fill="#DFF0D9"/><rect x="43.1" y="1095" width="1" height="196" fill="#777"/><rect x="41" y="1094.50" width="2.5" height="1" fill="#777"/><text x="35.2" y="1097.40" font-size="6.6" text-anchor="end" fill="#222" textLength="14.4" lengthAdjust="spacingAndGlyphs">2000</text><rect x="41" y="1114.05" width="2.5" height="1" fill="#777"/><text x="35.2" y="1116.95" font-size="6.6" text-anchor="end" fill="#222" textLength="14.4" lengthAdjust="spacingAndGlyphs">1800</text><rect x="41" y="1133.60" width="2.5" height="1" fill="#777"/><text x="35.2" y="1136.50" font-size="6.6" text-anchor="end" fill="#222" textLength="14.4" lengthAdjust="spacingAndGlyphs">1600</text><rect x="41" y="1153.15" width="2.5" height="1" fill="#777"/><text x="35.2" y="1156.05" font-size="6.6" text-anchor="end" fill="#222" textLength="14.4" lengthAdjust="spacingAndGlyphs">1400</text><rect x="41" y="1172.70" width="2.5" height="1" fill="#777"/><text x="35.2" y="1175.60" font-size="6.6" text-anchor="end" fill="#222" textLength="14.4" lengthAdjust="spacingAndGlyphs">1200</text><rect x="41" y="1192.25" width="2.5" height="1" fill="#777"/><text x="35.2" y="1195.15" font-size="6.6" text-anchor="end" fill="#222" textLength="14.4" lengthAdjust="spacingAndGlyphs">1000</text><rect x="41" y="1211.80" width="2.5" height="1" fill="#777"/><text x="35.2" y="1214.70" font-size="6.6" text-anchor="end" fill="#222" textLength="10.8" lengthAdjust="spacingAndGlyphs">800</text><rect x="41" y="1231.35" width="2.5" height="1" fill="#777"/><text x="35.2" y="1234.25" font-size="6.6" text-anchor="end" fill="#222" textLength="10.8" lengthAdjust="spacingAndGlyphs">600</text><rect x="41" y="1250.90" width="2.5" height="1" fill="#777"/><text x="35.2" y="1253.80" font-size="6.6" text-anchor="end" fill="#222" textLength="10.8" lengthAdjust="spacingAndGlyphs">400</text><rect x="41" y="1270.45" width="2.5" height="1" fill="#777"/><text x="35.2" y="1273.35" font-size="6.6" text-anchor="end" fill="#222" textLength="10.8" lengthAdjust="spacingAndGlyphs">200</text><rect x="41" y="1290.00" width="2.5" height="1" fill="#777"/><text x="35.2" y="1292.90" font-size="6.6" text-anchor="end" fill="#222" textLength="3.6" lengthAdjust="spacingAndGlyphs">0</text><rect x="43.1" y="1289.7" width="543.7" height="2" fill="#808080"/><rect x="43.10" y="1291.5" width="1" height="2.6" fill="#808080"/><rect x="53.74" y="1291.5" width="1" height="2.6" fill="#808080"/><rect x="64.38" y="1291.5" width="1" height="2.6" fill="#808080"/><rect x="75.02" y="1291.5" width="1" height="2.6" fill="#808080"/><rect x="85.66" y="1291.5" width="1" height="2.6" fill="#808080"/><rect x="96.30" y="1291.5" width="1" height="2.6" fill="#808080"/><rect x="106.94" y="1291.5" width="1" height="2.6" fill="#808080"/><rect x="117.58" y="1291.5" width="1" height="2.6" fill="#808080"/><rect x="128.22" y="1291.5" width="1" height="2.6" fill="#808080"/><rect x="138.86" y="1291.5" width="1" height="2.6" fill="#808080"/><rect x="149.50" y="1291.5" width="1" height="2.6" fill="#808080"/><rect x="160.14" y="1291.5" width="1" height="2.6" fill="#808080"/><rect x="170.78" y="1291.5" width="1" height="2.6" fill="#808080"/><rect x="181.42" y="1291.5" width="1" height="2.6" fill="#808080"/><rect x="192.06" y="1291.5" width="1" height="2.6" fill="#808080"/><rect x="202.70" y="1291.5" width="1" height="2.6" fill="#808080"/><rect x="213.34" y="1291.5" width="1" height="2.6" fill="#808080"/><rect x="223.98" y="1291.5" width="1" height="2.6" fill="#808080"/><rect x="234.62" y="1291.5" width="1" height="2.6" fill="#808080"/><rect x="245.26" y="1291.5" width="1" height="2.6" fill="#808080"/><rect x="255.90" y="1291.5" width="1" height="2.6" fill="#808080"/><rect x="266.54" y="1291.5" width="1" height="2.6" fill="#808080"/><rect x="277.18" y="1291.5" width="1" height="2.6" fill="#808080"/><rect x="287.82" y="1291.5" width="1" height="2.6" fill="#808080"/><rect x="298.46" y="1291.5" width="1" height="2.6" fill="#808080"/><rect x="309.10" y="1291.5" width="1" height="2.6" fill="#808080"/><rect x="319.74" y="1291.5" width="1" height="2.6" fill="#808080"/><rect x="330.38" y="1291.5" width="1" height="2.6" fill="#808080"/><rect x="341.02" y="1291.5" width="1" height="2.6" fill="#808080"/><rect x="351.66" y="1291.5" width="1" height="2.6" fill="#808080"/><rect x="362.30" y="1291.5" width="1" height="2.6" fill="#808080"/><rect x="372.94" y="1291.5" width="1" height="2.6" fill="#808080"/><rect x="383.58" y="1291.5" width="1" height="2.6" fill="#808080"/><rect x="394.22" y="1291.5" width="1" height="2.6" fill="#808080"/><rect x="404.86" y="1291.5" width="1" height="2.6" fill="#808080"/><rect x="415.50" y="1291.5" width="1" height="2.6" fill="#808080"/><rect x="426.14" y="1291.5" width="1" height="2.6" fill="#808080"/><rect x="436.78" y="1291.5" width="1" height="2.6" fill="#808080"/><rect x="447.42" y="1291.5" width="1" height="2.6" fill="#808080"/><rect x="458.06" y="1291.5" width="1" height="2.6" fill="#808080"/><rect x="468.70" y="1291.5" width="1" height="2.6" fill="#808080"/><rect x="479.34" y="1291.5" width="1" height="2.6" fill="#808080"/><rect x="489.98" y="1291.5" width="1" height="2.6" fill="#808080"/><rect x="500.62" y="1291.5" width="1" height="2.6" fill="#808080"/><rect x="511.26" y="1291.5" width="1" height="2.6" fill="#808080"/><rect x="521.90" y="1291.5" width="1" height="2.6" fill="#808080"/><rect x="532.54" y="1291.5" width="1" height="2.6" fill="#808080"/><rect x="543.18" y="1291.5" width="1" height="2.6" fill="#808080"/><rect x="553.82" y="1291.5" width="1" height="2.6" fill="#808080"/><rect x="564.46" y="1291.5" width="1" height="2.6" fill="#808080"/><rect x="575.10" y="1291.5" width="1" height="2.6" fill="#808080"/><rect x="585.74" y="1291.5" width="1" height="2.6" fill="#808080"/></g>
<g transform="translate(44.80 1303.60) rotate(-41)"><text x="0" y="0" font-size="6.5" fill="#000" text-anchor="end">6月中旬</text></g>
<g transform="translate(76.72 1303.60) rotate(-41)"><text x="0" y="0" font-size="6.5" fill="#000" text-anchor="end">7月中旬</text></g>
<g transform="translate(108.64 1303.60) rotate(-41)"><text x="0" y="0" font-size="6.5" fill="#000" text-anchor="end">8月中旬</text></g>
<g transform="translate(140.56 1303.60) rotate(-41)"><text x="0" y="0" font-size="6.5" fill="#000" text-anchor="end">9月中旬</text></g>
<g transform="translate(172.48 1303.60) rotate(-41)"><text x="0" y="0" font-size="6.5" fill="#000" text-anchor="end">10月中旬</text></g>
<g transform="translate(204.40 1303.60) rotate(-41)"><text x="0" y="0" font-size="6.5" fill="#000" text-anchor="end">11月中旬</text></g>
<g transform="translate(236.32 1303.60) rotate(-41)"><text x="0" y="0" font-size="6.5" fill="#000" text-anchor="end">12月中旬</text></g>
<g transform="translate(268.24 1303.60) rotate(-41)"><text x="0" y="0" font-size="6.5" fill="#000" text-anchor="end">1月中旬</text></g>
<g transform="translate(300.16 1303.60) rotate(-41)"><text x="0" y="0" font-size="6.5" fill="#000" text-anchor="end">2月中旬</text></g>
<g transform="translate(332.08 1303.60) rotate(-41)"><text x="0" y="0" font-size="6.5" fill="#000" text-anchor="end">3月中旬</text></g>
<g transform="translate(364.00 1303.60) rotate(-41)"><text x="0" y="0" font-size="6.5" fill="#000" text-anchor="end">4月中旬</text></g>
<g transform="translate(395.92 1303.60) rotate(-41)"><text x="0" y="0" font-size="6.5" fill="#000" text-anchor="end">5月中旬</text></g>
<g transform="translate(427.84 1303.60) rotate(-41)"><text x="0" y="0" font-size="6.5" fill="#000" text-anchor="end">6月中旬</text></g>
<g transform="translate(459.76 1303.60) rotate(-41)"><text x="0" y="0" font-size="6.5" fill="#000" text-anchor="end">7月中旬</text></g>
<g transform="translate(491.68 1303.60) rotate(-41)"><text x="0" y="0" font-size="6.5" fill="#000" text-anchor="end">8月中旬</text></g>
<g transform="translate(523.60 1303.60) rotate(-41)"><text x="0" y="0" font-size="6.5" fill="#000" text-anchor="end">9月中旬</text></g>
<g transform="translate(555.52 1303.60) rotate(-41)"><text x="0" y="0" font-size="6.5" fill="#000" text-anchor="end">10月中旬</text></g>
<g transform="translate(587.44 1303.60) rotate(-41)"><text x="0" y="0" font-size="6.5" fill="#000" text-anchor="end">11月中旬</text></g>
</svg>
<div class="num" style="left:181.0px;top:95.2px"><span class="sx">1,606.48</span></div>
<div class="num" style="left:316.5px;top:95.2px"><span class="sx">1,762.84</span></div>
<div class="num" style="left:456.0px;top:95.2px"><span class="sx">1,745.65</span></div>
<div class="num" style="left:181.0px;top:133.9px"><span class="sx">160.65</span></div>
<div class="num" style="left:316.5px;top:133.9px"><span class="sx">176.28</span></div>
<div class="num" style="left:456.0px;top:133.9px"><span class="sx">174.57</span></div>
<div class="num w" style="left:181.5px;top:171.6px"><span class="tri up">▲</span><span class="sx p">+0.13%</span></div>
<div class="num w" style="left:317.0px;top:171.6px"><span class="tri dn">▼</span><span class="sx p">-2.04%</span></div>
<div class="num w" style="left:456.5px;top:171.6px"><span class="tri dn">▼</span><span class="sx p">-0.22%</span></div>
<div class="num w" style="left:181.5px;top:210.3px"><span class="tri dn">▼</span><span class="sx p">-14.03%</span></div>
<div class="num w" style="left:317.0px;top:210.3px"><span class="tri dn">▼</span><span class="sx p">-16.59%</span></div>
<div class="num w" style="left:456.5px;top:210.3px"><span class="tri dn">▼</span><span class="sx p">-15.45%</span></div>
<div class="num" style="left:181.0px;top:250.1px"><span class="sx">3,163.66</span></div>
<div class="num" style="left:316.5px;top:250.1px"><span class="sx">3,518.22</span></div>
<div class="num" style="left:456.0px;top:250.1px"><span class="sx">3,454.67</span></div>
<div class="num" style="left:181.0px;top:289.0px"><span class="sx">158.18</span></div>
<div class="num" style="left:316.5px;top:289.0px"><span class="sx">175.91</span></div>
<div class="num" style="left:456.0px;top:289.0px"><span class="sx">172.73</span></div>
<div class="num w" style="left:181.5px;top:325.4px"><span class="tri dn">▼</span><span class="sx p">-3.99%</span></div>
<div class="num w" style="left:317.0px;top:325.4px"><span class="tri dn">▼</span><span class="sx p">-3.73%</span></div>
<div class="num w" style="left:456.5px;top:325.4px"><span class="tri dn">▼</span><span class="sx p">-5.42%</span></div>
<div class="num w" style="left:181.5px;top:364.9px"><span class="tri dn">▼</span><span class="sx p">-15.45%</span></div>
<div class="num w" style="left:317.0px;top:364.9px"><span class="tri dn">▼</span><span class="sx p">-17.00%</span></div>
<div class="num w" style="left:456.5px;top:364.9px"><span class="tri dn">▼</span><span class="sx p">-16.54%</span></div>
</div></body></html>
